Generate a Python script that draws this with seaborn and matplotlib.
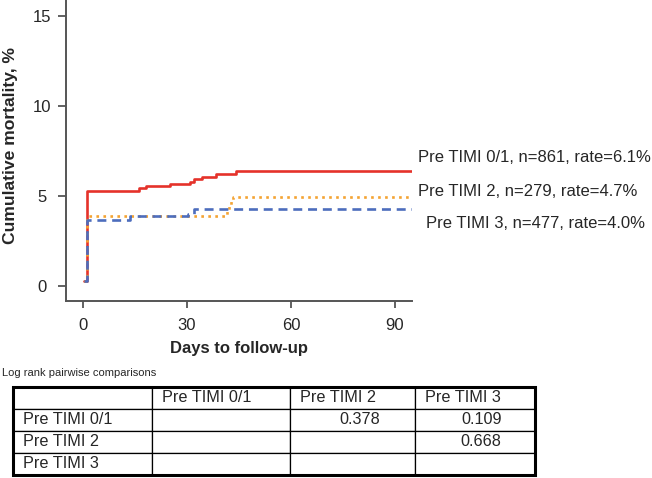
"""Cumulative mortality by pre-procedure TIMI flow, with log rank table."""

import matplotlib
matplotlib.use("Agg")
import matplotlib.pyplot as plt
import seaborn as sns
import pandas as pd
from matplotlib.patches import Rectangle

# curves (day, cumulative mortality %)
red_days = [0.3, 1.1, 16.1, 18.2, 25.1, 30.9, 32.1, 34.2, 38.5, 44.1, 95]
red_vals = [0.3, 5.3, 5.45, 5.57, 5.7, 5.8, 5.94, 6.04, 6.22, 6.38, 6.38]

orange_days = [0.3, 1.1, 41.4, 42.0, 42.6, 43.2, 95]
orange_vals = [0.3, 3.87, 4.2, 4.5, 4.75, 4.97, 4.97]

blue_days = [0.3, 1.1, 13.6, 30.4, 32.0, 95]
blue_vals = [0.3, 3.67, 3.87, 4.0, 4.28, 4.28]

curve_labels = [
    "Pre TIMI 0/1, n=861, rate=6.1%",
    "Pre TIMI 2, n=279, rate=4.7%",
    "Pre TIMI 3, n=477, rate=4.0%",
]

x_ticks = [0, 30, 60, 90]
y_ticks = [0, 5, 10, 15]

table_header = ["", "Pre TIMI 0/1", "Pre TIMI 2", "Pre TIMI 3"]
table_rows = [
    ["Pre TIMI 0/1", "", "0.378", "0.109"],
    ["Pre TIMI 2", "", "", "0.668"],
    ["Pre TIMI 3", "", "", ""],
]

RED = "#e5322a"
ORANGE = "#f4a332"
BLUE = "#4d6dbd"
SPINE = "#555555"

sns.set_style("ticks")
plt.rcParams["font.family"] = ["Liberation Sans", "DejaVu Sans"]

fig = plt.figure(figsize=(6.52, 4.78), dpi=100)
ax = fig.add_axes([66 / 652, 1 - 301 / 478, 346 / 652, 301 / 478])

curves = [
    (red_days, red_vals, RED, "-"),
    (orange_days, orange_vals, ORANGE, ":"),
    (blue_days, blue_vals, BLUE, (0, (3.4, 2.2))),
]
for days, vals, color, ls in curves:
    df = pd.DataFrame({"day": days, "mort": vals})
    sns.lineplot(data=df, x="day", y="mort", ax=ax, color=color, linestyle=ls,
                 linewidth=1.9, drawstyle="steps-post", sort=False, estimator=None)

ax.set_xlim(-4.9, 94.9)
ax.set_ylim(-0.83, 15.9)
ax.set_xticks(x_ticks)
ax.set_yticks(y_ticks)
for lab in ax.get_yticklabels():
    lab.set_horizontalalignment("center")
ax.tick_params(axis="y", length=6, width=1.3, color=SPINE, pad=11.5, labelsize=12)
ax.tick_params(axis="x", length=5, width=1.3, color=SPINE, pad=7, labelsize=12)
sns.despine(ax=ax)
for side in ["left", "bottom"]:
    ax.spines[side].set_color(SPINE)
    ax.spines[side].set_linewidth(1.4)

ax.set_xlabel("Days to follow-up", fontsize=12, fontweight="bold", labelpad=6)
ax.set_ylabel("Cumulative mortality, %", fontsize=12.6, fontweight="bold")
ax.yaxis.set_label_coords(-0.139, 0.515)

label_pos = [(418, 158), (418, 192), (426, 224)]
for text, (px, py) in zip(curve_labels, label_pos):
    fig.text(px / 652, 1 - py / 478, text, fontsize=12, ha="left", va="center")

fig.text(2 / 652, 1 - 373 / 478, "Log rank pairwise comparisons", fontsize=8,
         ha="left", va="center")

# table
tax = fig.add_axes([13 / 652, 1 - 475 / 478, 522 / 652, 88 / 478])
tax.set_axis_off()
col_px = [139, 138, 125, 120]
col_w = [c / sum(col_px) for c in col_px]
tbl = tax.table(cellText=[table_header] + table_rows, colWidths=col_w,
                bbox=[0, 0, 1, 1], cellLoc="left")
tbl.auto_set_font_size(False)
for (r, c), cell in tbl.get_celld().items():
    cell.set_linewidth(0.9)
    cell.set_edgecolor("black")
    txt = cell.get_text()
    txt.set_fontsize(11.7)
    val = txt.get_text()
    if r > 0 and c > 0 and val:
        cell._loc = "right"
        txt.set_horizontalalignment("right")
        cell.PAD = 0.28
    else:
        cell.PAD = 10 / col_px[c]
tax.add_patch(Rectangle((0, 0), 1, 1, transform=tax.transAxes, fill=False,
                        lw=2.2, edgecolor="black", clip_on=False))

fig.savefig("out.png", dpi=100)
